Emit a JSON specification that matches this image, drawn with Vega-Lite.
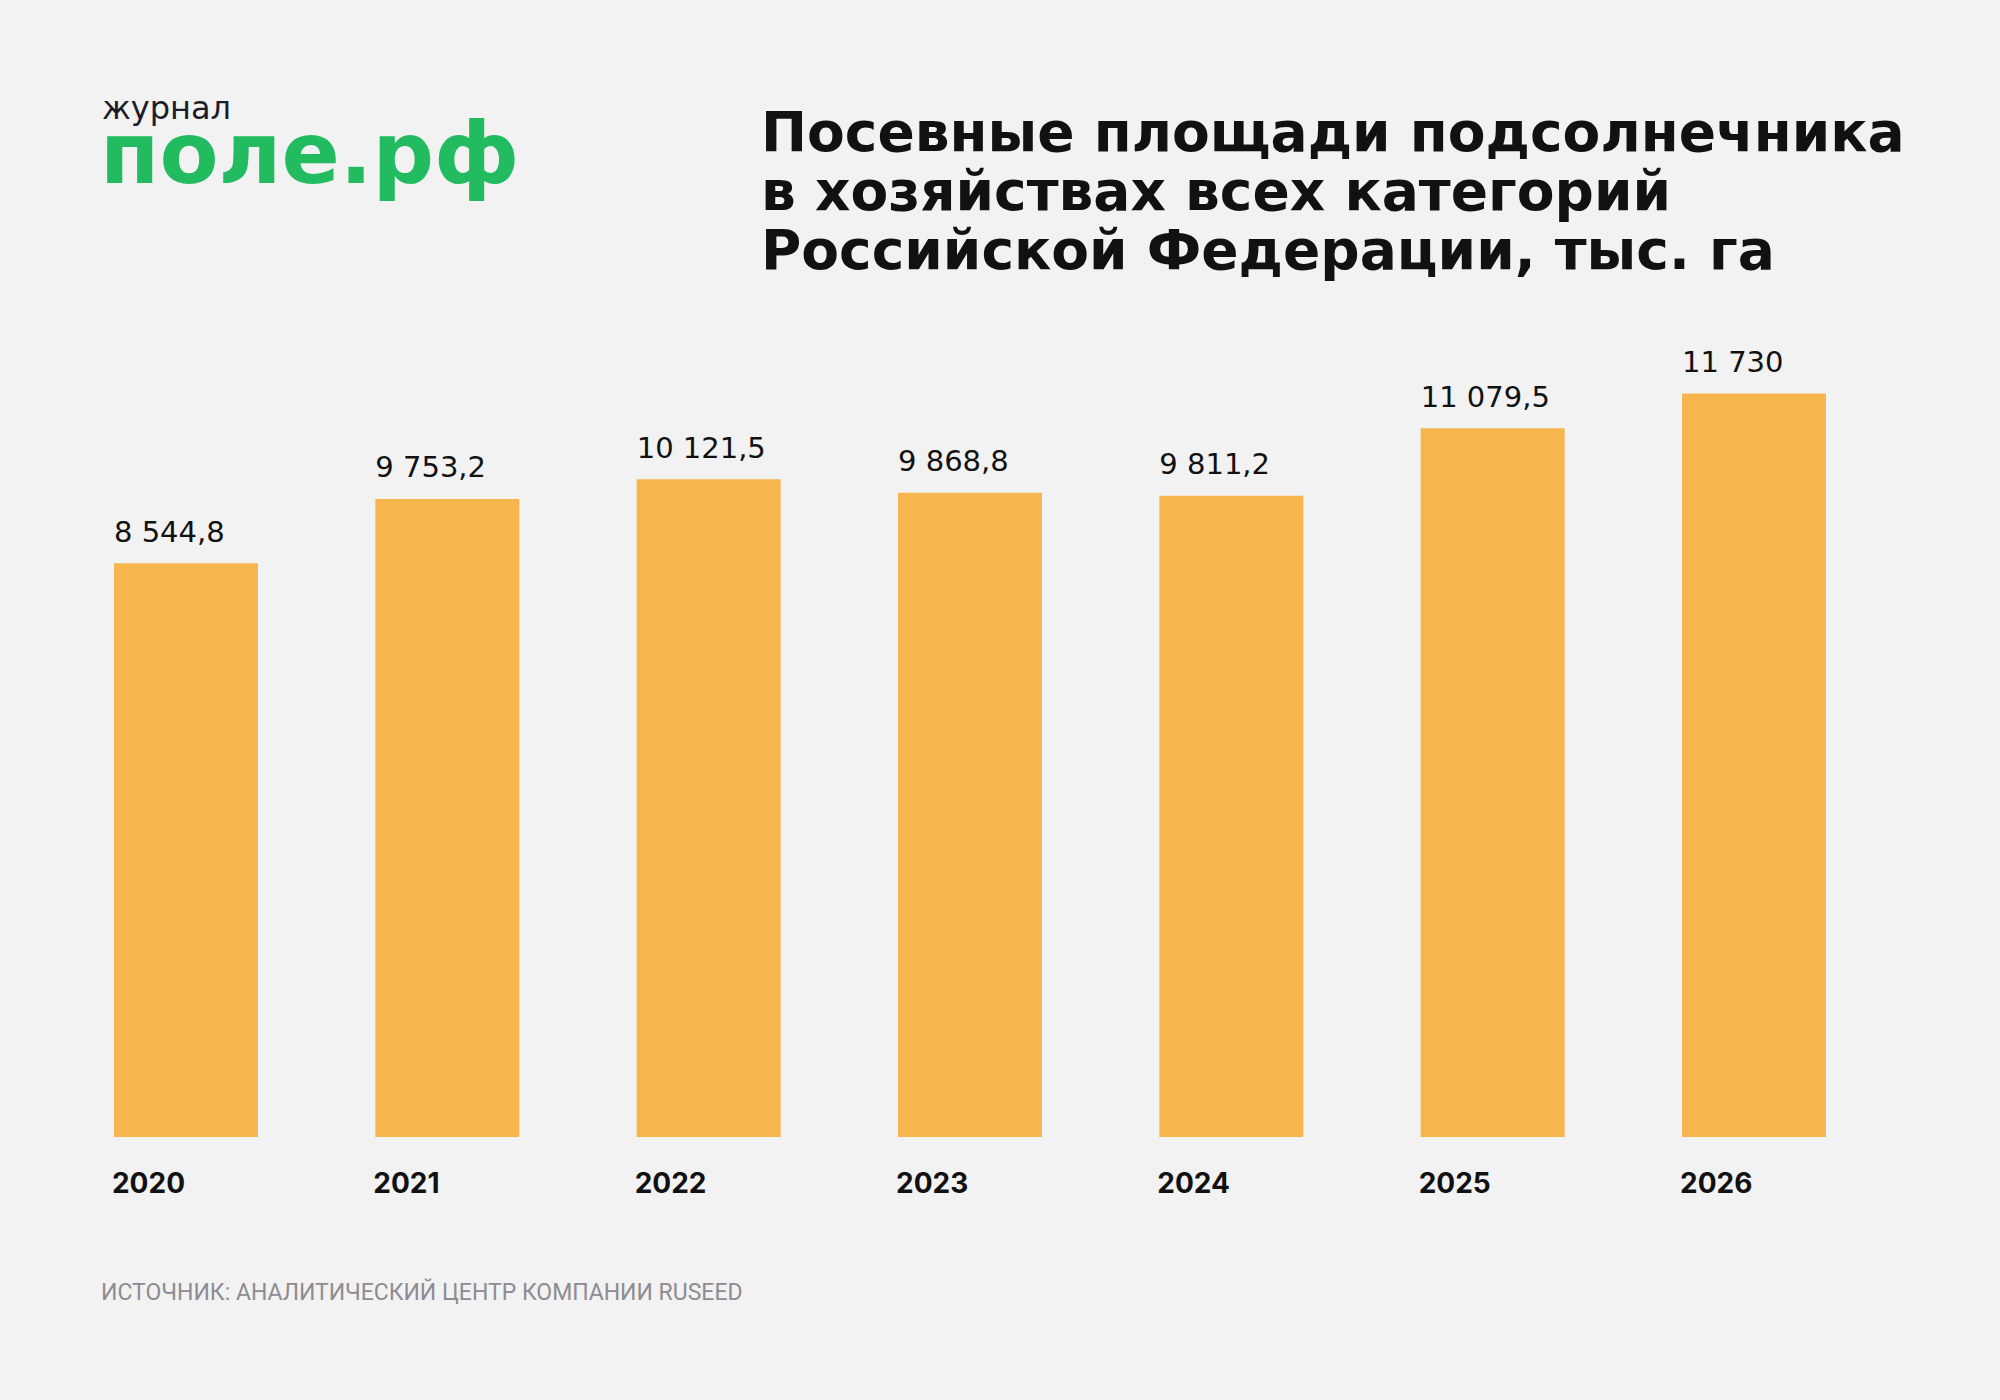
{
  "$schema": "https://vega.github.io/schema/vega-lite/v6.json",
  "autosize": {"type": "none"},
  "width": 1712,
  "height": 837,
  "padding": {"left": 114, "top": 300, "right": 174, "bottom": 263},
  "background": "#f2f2f2",
  "config": {"view": {"stroke": null}},
  "data": {"values": [
    {"year": "2020", "value": 8544.8, "label": "8 544,8"},
    {"year": "2021", "value": 9753.2, "label": "9 753,2"},
    {"year": "2022", "value": 10121.5, "label": "10 121,5"},
    {"year": "2023", "value": 9868.8, "label": "9 868,8"},
    {"year": "2024", "value": 9811.2, "label": "9 811,2"},
    {"year": "2025", "value": 11079.5, "label": "11 079,5"},
    {"year": "2026", "value": 11730, "label": "11 730"}
  ]},
  "layer": [
    {
      "mark": {"type": "bar", "color": "#F6B64D"},
      "encoding": {
        "x": {
          "field": "year", "type": "ordinal",
          "scale": {"type": "band", "paddingInner": 0.4491, "paddingOuter": 0},
          "axis": {
            "title": null, "domain": false, "ticks": false, "grid": false,
            "labelAngle": 0, "labelAlign": "left", "labelOffset": -74,
            "labelBaseline": "top", "labelPadding": 33,
            "labelFont": "Inter", "labelFontWeight": 700, "labelFontSize": 28,
            "labelColor": "#111111"
          }
        },
        "y": {
          "field": "value", "type": "quantitative",
          "scale": {"domain": [-2217, 13484], "zero": false, "nice": false},
          "axis": null
        },
        "y2": {"datum": -2217}
      }
    },
    {
      "mark": {"type": "text", "align": "left", "baseline": "alphabetic", "dy": -21.6,
               "font": "DejaVu Sans", "fontWeight": 500, "fontSize": 29, "color": "#111111"},
      "encoding": {
        "x": {"field": "year", "type": "ordinal", "bandPosition": 0},
        "y": {"field": "value", "type": "quantitative"},
        "text": {"field": "label"}
      }
    },
    {
      "data": {"values": [{"t": "Посевные площади подсолнечника\nв хозяйствах всех категорий\nРоссийской Федерации, тыс. га"}]},
      "mark": {"type": "text", "align": "left", "baseline": "alphabetic", "lineBreak": "\n",
               "lineHeight": 59, "font": "DejaVu Sans", "fontWeight": "bold", "fontSize": 55, "color": "#111111"},
      "encoding": {"x": {"value": 647}, "y": {"value": -149.5}, "text": {"field": "t"}}
    },
    {
      "data": {"values": [{"t": "журнал"}]},
      "mark": {"type": "text", "align": "left", "baseline": "alphabetic",
               "font": "DejaVu Sans", "fontWeight": 400, "fontSize": 32, "color": "#1c1c28"},
      "encoding": {"x": {"value": -12}, "y": {"value": -181}, "text": {"field": "t"}}
    },
    {
      "data": {"values": [{"t": "поле.рф"}]},
      "mark": {"type": "text", "align": "left", "baseline": "alphabetic",
               "font": "DejaVu Sans", "fontWeight": "bold", "fontSize": 86, "color": "#22BB60"},
      "encoding": {"x": {"value": -14}, "y": {"value": -117}, "text": {"field": "t"}}
    },
    {
      "data": {"values": [{"t": "ИСТОЧНИК: АНАЛИТИЧЕСКИЙ ЦЕНТР КОМПАНИИ RUSEED"}]},
      "mark": {"type": "text", "align": "left", "baseline": "alphabetic",
               "font": "Roboto", "fontWeight": 400, "fontSize": 23, "color": "#8e8b92"},
      "encoding": {"x": {"value": -13}, "y": {"value": 1000}, "text": {"field": "t"}}
    }
  ]
}
